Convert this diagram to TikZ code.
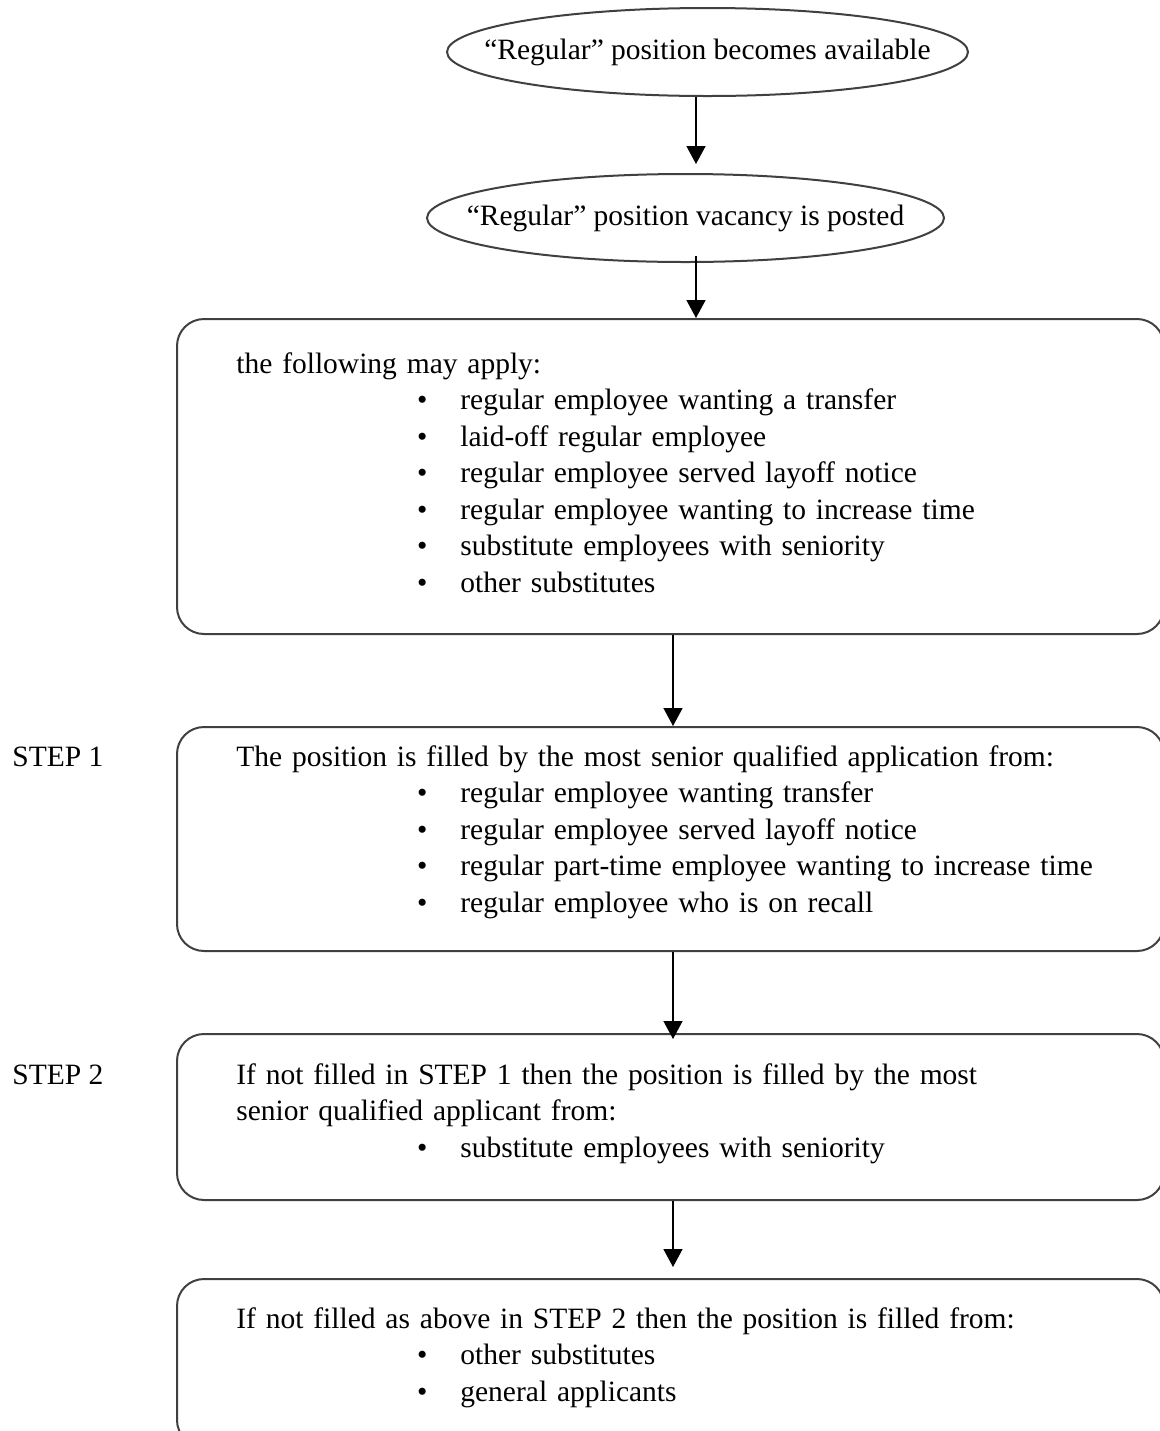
\documentclass[tikz,border=0pt]{standalone}
\usepackage{fontspec}
\setmainfont{Liberation Serif}
\usepackage{tikz}
\usetikzlibrary{shapes,arrows.meta,positioning}

\newcommand{\bitem}[1]{\\\hspace*{90.4pt}\makebox[21.6pt][l]{\textbullet}#1}

\begin{document}
\begin{tikzpicture}[
        x=0.5pt, y=-0.5pt,
        font=\fontsize{14.75}{18.25}\selectfont,
        oval/.style={ellipse, draw=black!75, line width=1pt, inner sep=0pt, minimum height=44pt},
        panel/.style={rectangle, draw=black!75, line width=1pt, rounded corners=13.5pt, minimum width=493.5pt},
        words/.style={anchor=base west, inner sep=0pt, text width=470pt, align=left},
        tag/.style={anchor=base west, inner sep=0pt},
        arrow/.style={line width=0.75pt, -{Triangle[length=9pt,width=9.5pt]}}
    ]
        \path[use as bounding box] (0,0) rectangle (1160,1431);
        \clip (0,0) rectangle (1160,1431);

        % Start of the posting
        \node[oval, minimum width=260.5pt] (avail) at (707.5,52) {\makebox[0pt]{\raisebox{2pt}{``Regular'' position becomes available}}};
        \node[oval, minimum width=258.5pt] (posted) at (685.5,218) {\makebox[0pt]{\raisebox{2pt}{``Regular'' position vacancy is posted}}};

        % Boxes
        \node[panel, minimum height=157.5pt] (apply) at (670.5,476.5) {};
        \node[panel, minimum height=112pt] (step1) at (670.5,839) {};
        \node[panel, minimum height=83pt] (step2) at (670.5,1117) {};
        \node[panel, minimum height=84pt] (rest) at (670.5,1363) {};

        % Texts in the boxes
        \node[words] (applytxt) at (236,373) {the following may apply:
            \bitem{regular employee wanting a transfer}
            \bitem{laid-off regular employee}
            \bitem{regular employee served layoff notice}
            \bitem{regular employee wanting to increase time}
            \bitem{substitute employees with seniority}
            \bitem{other substitutes}};
        \node[words] (step1txt) at (236,766) {The position is filled by the most senior qualified application from:
            \bitem{regular employee wanting transfer}
            \bitem{regular employee served layoff notice}
            \bitem{regular part-time employee wanting to increase time}
            \bitem{regular employee who is on recall}};
        \node[words] (step2txt) at (236,1084) {If not filled in STEP 1 then the position is filled by the most\\
            senior qualified applicant from:
            \bitem{substitute employees with seniority}};
        \node[words] (resttxt) at (236,1328) {If not filled as above in STEP 2 then the position is filled from:
            \bitem{other substitutes}
            \bitem{general applicants}};

        % Step labels
        \node[tag] (lbl1) at (12,766) {STEP 1};
        \node[tag] (lbl2) at (12,1084) {STEP 2};

        % Connections
        \draw[arrow, shorten >=4.5pt] ([xshift=-5.75pt]avail.south) -- ([xshift=5.25pt]posted.north);
        \draw[arrow, shorten <=-3.5pt] ([xshift=5.25pt]posted.south) -- ([xshift=12.75pt]apply.north);
        \draw[arrow] ([xshift=1.25pt]apply.south) -- ([xshift=1.25pt]step1.north);
        \draw[arrow, shorten >=-3pt] ([xshift=1.25pt]step1.south) -- ([xshift=1.25pt]step2.north);
        \draw[arrow, shorten >=5.5pt] ([xshift=1.25pt]step2.south) -- ([xshift=1.25pt]rest.north);
    \end{tikzpicture}
\end{document}
